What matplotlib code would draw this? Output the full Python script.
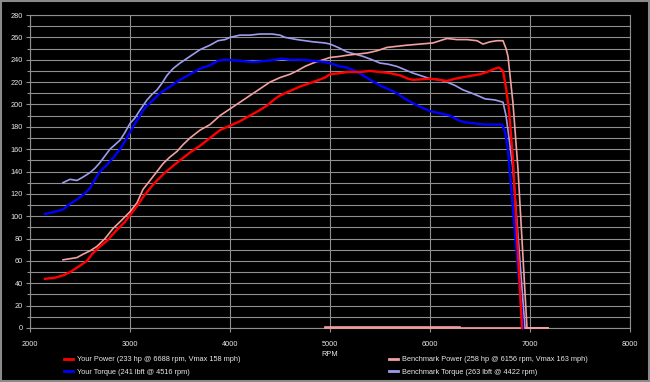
import numpy as np
import matplotlib
matplotlib.use("Agg")
import matplotlib.pyplot as plt
from matplotlib.patches import Rectangle
from matplotlib.ticker import MultipleLocator

plt.rcParams.update({"font.family": ["Liberation Sans", "DejaVu Sans"], "font.size": 5.3})

# ---- data ----
yp_rpm = [2150,2250,2330,2400,2470,2570,2620,2700,2770,2830,2870,2950,3000,3070,3130,3200,3270,3350,3430,3500,
          3600,3700,3800,3900,4000,4100,4200,4300,4370,4450,4500,4600,4700,4830,4950,5000,5100,5170,5300,5400,
          5500,5600,5700,5780,5830,6000,6100,6170,6250,6370,6500,6570,6650,6690,6730,6760,6790,6830,6920]
yp_hp = [44,45,47,50,54,60,66,73,78,84,88,95,101,109,117,125,132,139,145,150,
         157,163,170,177,181,185,190,195,199,205,208,212,216,220,224,227,228,229,229,230,
         229,228,226,223,222,223,222,221,223,225,227,229,232,233,230,215,195,150,0]

yt_rpm = [2150,2250,2330,2400,2470,2530,2600,2650,2700,2770,2830,2900,2950,3030,3100,3150,3220,3300,3400,3500,
          3600,3700,3800,3880,3950,4100,4230,4370,4450,4520,4600,4700,4830,4950,5030,5100,5170,5250,5330,5420,
          5500,5600,5670,5750,5830,5900,6000,6100,6200,6280,6350,6450,6550,6650,6720,6750,6780,6850,6930]
yt_tq = [102,104,106,111,115,119,125,133,140,146,152,160,167,180,190,197,203,210,216,222,
         227,232,235,239,240,239,238,239,240,241,240,240,239,238,236,234,233,230,226,221,
         217,213,210,205,201,198,194,192,190,186,184,183,182,182,182,176,159,85,0]

bp_rpm = [2330,2400,2470,2530,2600,2670,2750,2830,2900,3000,3070,3130,3200,3270,3330,3400,3470,3530,3600,3700,
          3800,3900,4000,4100,4200,4300,4400,4500,4600,4670,4750,4830,4900,5000,5100,5170,5270,5370,5470,5570,
          5670,5770,5900,6030,6100,6170,6270,6370,6470,6530,6600,6670,6730,6760,6780,6830,6880,6970,7180,4950]
bp_hp = [61,62,63,66,69,73,80,89,95,104,112,124,132,140,147,153,158,164,170,177,
         182,190,196,202,208,214,220,224,227,230,234,237,239,242,243,244,245,246,248,251,
         252,253,254,255,257,259,258,258,257,254,256,257,257,250,243,201,142,0,0,0]

# coast-down samples left at zero rpm readings
bp_tail_rpm = [4950, 6300]
bp_tail_hp = [0.6, 0.6]

bt_rpm = [2330,2400,2470,2530,2600,2650,2700,2750,2800,2850,2900,2950,3000,3050,3100,3170,3220,3270,3320,3370,
          3430,3500,3600,3700,3800,3880,3950,4000,4100,4200,4300,4420,4500,4550,4670,4750,4830,4950,5000,5080,
          5170,5250,5330,5420,5500,5580,5670,5750,5830,5900,6000,6100,6170,6250,6330,6420,6500,6550,6650,6730,
          6760,6780,6830,6950]
bt_tq = [130,133,132,135,139,143,148,154,160,164,168,175,183,188,195,204,209,213,219,226,
         232,237,243,249,253,257,258,260,262,262,263,263,262,260,258,257,256,255,254,251,
         247,245,243,240,237,236,234,231,228,226,223,222,220,217,213,210,207,205,204,202,
         190,177,142,0]

labels = ["Your Power (233 hp @ 6688 rpm, Vmax 158 mph)",
          "Your Torque (241 lbft @ 4516 rpm)",
          "Benchmark Power (258 hp @ 6156 rpm, Vmax 163 mph)",
          "Benchmark Torque (263 lbft @ 4422 rpm)"]

fg = "#e8e8e8"; grid = "#8f8f8f"
fig = plt.figure(figsize=(6.5, 3.82), dpi=100, facecolor="black")
ax = fig.add_axes([30/650, 1-328/382, 600/650, 313/382], facecolor="black")

l_bt, = ax.plot(bt_rpm, bt_tq, color="#9d9df0", lw=1.2, zorder=3, clip_on=False)
l_bp, = ax.plot(bp_rpm, bp_hp, color="#f2a0a0", lw=1.2, zorder=3, clip_on=False)
ax.plot(bp_tail_rpm, bp_tail_hp, color="#f2a0a0", lw=1.2, zorder=3, clip_on=False)
l_yt, = ax.plot(yt_rpm, yt_tq, color="#0000ff", lw=1.7, zorder=4, clip_on=False)
l_yp, = ax.plot(yp_rpm, yp_hp, color="#ff0000", lw=1.7, zorder=5, clip_on=False)

ax.set_xlim(2000, 8000); ax.set_ylim(0, 280)
ax.xaxis.set_major_locator(MultipleLocator(1000))
ax.yaxis.set_major_locator(MultipleLocator(20))
ax.yaxis.set_minor_locator(MultipleLocator(10))
ax.grid(True, which="major", color=grid, lw=0.8, zorder=1)
ax.grid(True, which="minor", axis="y", color=grid, lw=0.8, zorder=1)
for s in ax.spines.values():
    s.set_color(grid); s.set_linewidth(0.8); s.set_zorder(1)
ax.tick_params(which="major", colors=grid, labelcolor=fg, length=3, width=0.8)
ax.tick_params(axis="x", pad=6)
ax.tick_params(axis="y", pad=2)
ax.tick_params(which="minor", colors=grid, length=2, width=0.8)
ax.set_xlabel("RPM", color=fg, labelpad=2.5)

kw = dict(loc="upper left", frameon=False, labelcolor=fg, handlelength=1.2, handletextpad=0.6,
          labelspacing=0.75, borderaxespad=0, borderpad=0)
leg1 = fig.legend([l_yp, l_yt], labels[:2], bbox_to_anchor=(64/650, 1-356/382), **kw)
leg2 = fig.legend([l_bp, l_bt], labels[2:], bbox_to_anchor=(389/650, 1-356/382), **kw)
for lg in (leg1, leg2):
    for h in lg.legend_handles:
        h.set_linewidth(2.0)

fig.patches.append(Rectangle((0.002, 0.003), 0.996, 0.994, transform=fig.transFigure,
                             fill=False, edgecolor="#8a8a8a", lw=1.5))
fig.savefig("out.png", dpi=100, facecolor="black")
